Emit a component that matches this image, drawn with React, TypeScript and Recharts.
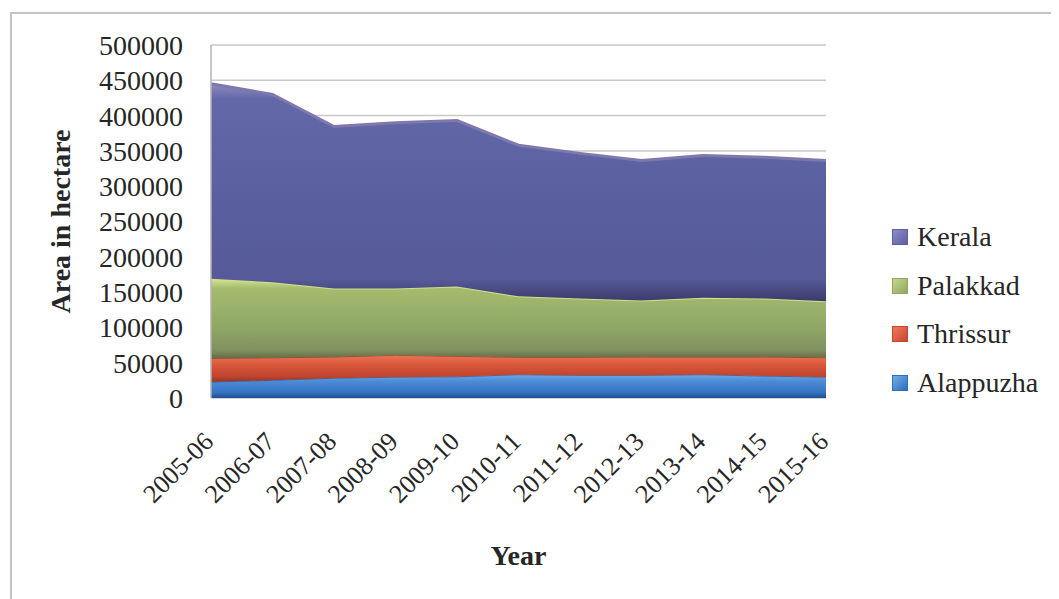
import React from "react";
import { AreaChart, Area, XAxis, YAxis, CartesianGrid } from "recharts";

// Years on the x axis
const years = [
  "2005-06", "2006-07", "2007-08", "2008-09", "2009-10", "2010-11",
  "2011-12", "2012-13", "2013-14", "2014-15", "2015-16",
];

// Area in hectare, stacked bottom to top
const alappuzha = [22500, 25000, 28000, 29500, 30000, 33000, 32000, 32000, 33000, 31000, 29500];
const thrissur = [33500, 32000, 30000, 31000, 29000, 24500, 25500, 26000, 25000, 27000, 27500];
const palakkad = [113000, 107000, 97000, 94500, 99000, 86500, 83500, 80000, 84000, 83000, 80000];
const kerala = [276000, 266000, 229500, 235000, 235000, 214000, 205500, 198500, 201500, 200000, 199500];

const yTicks = [0, 50000, 100000, 150000, 200000, 250000, 300000, 350000, 400000, 450000, 500000];

const data = years.map((year, i) => ({
  year,
  Alappuzha: alappuzha[i],
  Thrissur: thrissur[i],
  Palakkad: palakkad[i],
  Kerala: kerala[i],
}));

const FONT = "Liberation Serif, Times New Roman, Times, serif";
const TEXT = "#262626";

// legend is listed top-down like the original
const legendItems = [
  { name: "Kerala", color: "#5d5fa3", light: "#8f8cc4" },
  { name: "Palakkad", color: "#8da862", light: "#c6d78c" },
  { name: "Thrissur", color: "#c8452f", light: "#ee7a5d" },
  { name: "Alappuzha", color: "#2f6fbd", light: "#72aee6" },
];

const XTick = (props: any) => {
  const { x, y, payload } = props;
  const tx = x + 4;
  const ty = y + 45;
  return (
    <text
      x={tx}
      y={ty}
      textAnchor="end"
      transform={`rotate(-45, ${tx}, ${ty})`}
      style={{ fontFamily: FONT, fontSize: 26, fill: TEXT }}
    >
      {payload.value}
    </text>
  );
};

export default function App() {
  return (
    <div style={{ position: "relative", width: 1051, height: 591, fontFamily: FONT }}>
      {/* outer chart frame (only top and left edges visible) */}
      <div
        style={{
          position: "absolute",
          left: 2,
          top: 4,
          right: 0,
          bottom: 0,
          borderLeft: "2px solid #c4c4c4",
          borderTop: "2px solid #c4c4c4",
        }}
      />
      <AreaChart
        width={1051}
        height={591}
        data={data}
        margin={{ top: 37, right: 233, left: 0, bottom: 0 }}
        style={{ position: "absolute", left: 0, top: 0 }}
      >
        <defs>
          <linearGradient id="gKerala" x1="0" y1="0" x2="0" y2="1">
            <stop offset="0" stopColor="#8f89bf" />
            <stop offset="0.07" stopColor="#6368a9" />
            <stop offset="0.5" stopColor="#5a5fa0" />
            <stop offset="0.9" stopColor="#565a98" />
            <stop offset="1" stopColor="#3b3a6a" />
          </linearGradient>
          <linearGradient id="gPalakkad" x1="0" y1="0" x2="0" y2="1">
            <stop offset="0" stopColor="#d8e494" />
            <stop offset="0.12" stopColor="#a5bc6e" />
            <stop offset="0.6" stopColor="#8fa866" />
            <stop offset="0.9" stopColor="#80915f" />
            <stop offset="1" stopColor="#646a44" />
          </linearGradient>
          <linearGradient id="gThrissur" x1="0" y1="0" x2="0" y2="1">
            <stop offset="0" stopColor="#ec7354" />
            <stop offset="0.35" stopColor="#d8573a" />
            <stop offset="0.8" stopColor="#bf432d" />
            <stop offset="1" stopColor="#8a3628" />
          </linearGradient>
          <linearGradient id="gAlappuzha" x1="0" y1="0" x2="0" y2="1">
            <stop offset="0" stopColor="#6aa8e4" />
            <stop offset="0.3" stopColor="#4a8ad6" />
            <stop offset="0.75" stopColor="#3775c2" />
            <stop offset="1" stopColor="#1c4d92" />
          </linearGradient>
        </defs>
        <CartesianGrid horizontal vertical={false} stroke="#c9c9c9" strokeWidth={1.5} />
        <XAxis
          dataKey="year"
          height={201}
          tickLine={false}
          axisLine={false}
          tickSize={0}
          tickMargin={0}
          interval={0}
          tick={<XTick />}
          label={{
            value: "Year",
            position: "insideBottom",
            offset: 34,
            style: { fontFamily: FONT, fontSize: 28, fontWeight: "bold", fill: TEXT },
          }}
        />
        <YAxis
          width={203}
          domain={[0, 500000]}
          ticks={yTicks}
          interval={0}
          tickLine={false}
          tickSize={0}
          tickMargin={28}
          axisLine={{ stroke: "#b5b5b5", strokeWidth: 1.5 }}
          tick={{ style: { fontFamily: FONT, fontSize: 28, fill: TEXT } }}
          label={{
            value: "Area in hectare",
            angle: -90,
            position: "insideLeft",
            offset: 52,
            style: {
              textAnchor: "middle",
              fontFamily: FONT,
              fontSize: 28,
              fontWeight: "bold",
              fill: TEXT,
            },
          }}
        />
        <Area
          type="linear"
          dataKey="Alappuzha"
          stackId="1"
          stroke="#2d67b3"
          strokeWidth={1}
          fill="url(#gAlappuzha)"
          fillOpacity={1}
          isAnimationActive={false}
        />
        <Area
          type="linear"
          dataKey="Thrissur"
          stackId="1"
          stroke="#a8402d"
          strokeWidth={1}
          fill="url(#gThrissur)"
          fillOpacity={1}
          isAnimationActive={false}
        />
        <Area
          type="linear"
          dataKey="Palakkad"
          stackId="1"
          stroke="#d2df8c"
          strokeWidth={2}
          fill="url(#gPalakkad)"
          fillOpacity={1}
          isAnimationActive={false}
        />
        <Area
          type="linear"
          dataKey="Kerala"
          stackId="1"
          stroke="#7d79ad"
          strokeWidth={3}
          fill="url(#gKerala)"
          fillOpacity={1}
          isAnimationActive={false}
        />
      </AreaChart>

      {/* legend */}
      <div style={{ position: "absolute", left: 884, top: 205 }}>
        {legendItems.map((item) => (
          <div
            key={item.name}
            style={{ display: "flex", alignItems: "center", height: 48.5, fontSize: 28, color: TEXT }}
          >
            <span
              style={{
                display: "inline-block",
                width: 14,
                height: 14,
                marginRight: 9,
                background: `linear-gradient(135deg, ${item.light}, ${item.color})`,
                border: `1px solid ${item.color}`,
              }}
            />
            {item.name}
          </div>
        ))}
      </div>
    </div>
  );
}
